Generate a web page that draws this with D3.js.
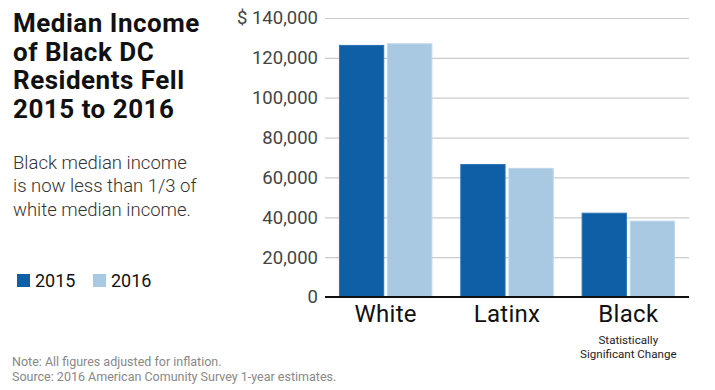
<!DOCTYPE html>
<html><head><meta charset="utf-8">
<script src="https://cdn.jsdelivr.net/npm/d3@7"></script>
<style>body{margin:0;background:#fff;}svg{display:block;font-family:Roboto,"Noto Sans",sans-serif;}</style>
</head><body>
<svg id="c" width="715" height="390"></svg>
<script>
const categories = ["White", "Latinx", "Black"];
const years = ["2015", "2016"];
const values2015 = [126500, 66700, 42300];
const values2016 = [127300, 64800, 38300];
const yTicks = [0, 20000, 40000, 60000, 80000, 100000, 120000, 140000];
const titleLines = ["Median Income", "of Black DC", "Residents Fell", "2015 to 2016"];
const subtitleLines = ["Black median income", "is now less than 1/3 of", "white median income."];
const notes = ["Note: All figures adjusted for inflation.", "Source: 2016 American Comunity Survey 1-year estimates."];
const colors = ["#0e5fa5", "#a9c8e1"];

(function () {
const svg = d3.select("#c");
const pLeft = 325, pRight = 689, pTop = 18, pBottom = 297;

const y = d3.scaleLinear().domain([0, 140000]).range([pBottom, pTop]);
const x0 = d3.scaleBand().domain(categories).range([pLeft, pRight]).paddingInner(0.23).paddingOuter(0.115);
const x1 = d3.scaleBand().domain(years).range([0, x0.bandwidth()]).paddingInner(0.06);
const color = d3.scaleOrdinal().domain(years).range(colors);

// gridlines + y labels
const yAxis = d3.axisLeft(y).tickValues(yTicks).tickSize(-(pRight - pLeft)).tickPadding(7)
  .tickFormat(d => d === 140000 ? "$ " + d3.format(",")(d) : d3.format(",")(d));
const ga = svg.append("g").attr("transform", `translate(${pLeft},0)`).call(yAxis);
ga.select(".domain").remove();
ga.selectAll(".tick line").attr("stroke", "#cccccc").attr("stroke-width", 1.2);
ga.selectAll(".tick text").attr("fill", "#444").style("font-size", "18.5px").style("font-family", "Roboto");

// bars
const data = categories.map((c, i) => ({cat: c, vals: [{year: "2015", v: values2015[i]}, {year: "2016", v: values2016[i]}]}));
const groups = svg.append("g").selectAll("g").data(data).join("g")
  .attr("transform", d => `translate(${x0(d.cat)},0)`);
groups.selectAll("rect").data(d => d.vals).join("rect")
  .attr("x", d => x1(d.year) + 0.5)
  .attr("width", x1.bandwidth() - 1)
  .attr("y", d => y(d.v) + 0.5)
  .attr("height", d => y(0) - y(d.v) - 0.5)
  .attr("fill", d => color(d.year))
  .attr("stroke", d => d.year === "2015" ? "#2a72b3" : "#bcd5ea")
  .attr("stroke-width", 1);

// zero line
svg.append("line").attr("x1", pLeft).attr("x2", pRight).attr("y1", y(0)).attr("y2", y(0))
  .attr("stroke", "#111").attr("stroke-width", 2);

// category labels
const xAxis = d3.axisBottom(x0).tickSize(0).tickPadding(8);
const gx = svg.append("g").attr("transform", `translate(0,${y(0)})`).call(xAxis);
gx.select(".domain").remove();
gx.selectAll(".tick text").attr("fill", "#111").style("font-size", "24px")
  .style("letter-spacing", "0.3px").style("font-family", "Roboto");
svg.append("text").attr("x", x0("Black") + x0.bandwidth() / 2).attr("y", 344)
  .attr("text-anchor", "middle").attr("fill", "#222").style("font-size", "11.6px").text("Statistically");
svg.append("text").attr("x", x0("Black") + x0.bandwidth() / 2).attr("y", 357.5)
  .attr("text-anchor", "middle").attr("fill", "#222").style("font-size", "11.6px").text("Significant Change");

// title
svg.append("g").selectAll("text").data(titleLines).join("text")
  .attr("x", 13).attr("y", (d, i) => 32 + i * 28.7)
  .attr("fill", "#111").style("font-size", "26px").style("font-weight", "700")
  .style("letter-spacing", "0.5px").text(d => d);

// subtitle
svg.append("g").selectAll("text").data(subtitleLines).join("text")
  .attr("x", 13).attr("y", (d, i) => 169 + i * 23.3)
  .attr("fill", "#333").style("font-size", "18.5px").style("font-weight", "300").text(d => d);

// legend
const legX = [17, 93];
const leg = svg.append("g").selectAll("g").data(years).join("g")
  .attr("transform", (d, i) => `translate(${legX[i]},274)`);
leg.append("rect").attr("width", 13).attr("height", 13).attr("fill", d => color(d));
leg.append("text").attr("x", 18).attr("y", 13).attr("fill", "#111").style("font-size", "18px").text(d => d);

// notes
svg.append("g").selectAll("text").data(notes).join("text")
  .attr("x", 12).attr("y", (d, i) => 366 + i * 14.5)
  .attr("fill", "#888").style("font-size", "12.5px").text(d => d);
})();
</script>
</body></html>
